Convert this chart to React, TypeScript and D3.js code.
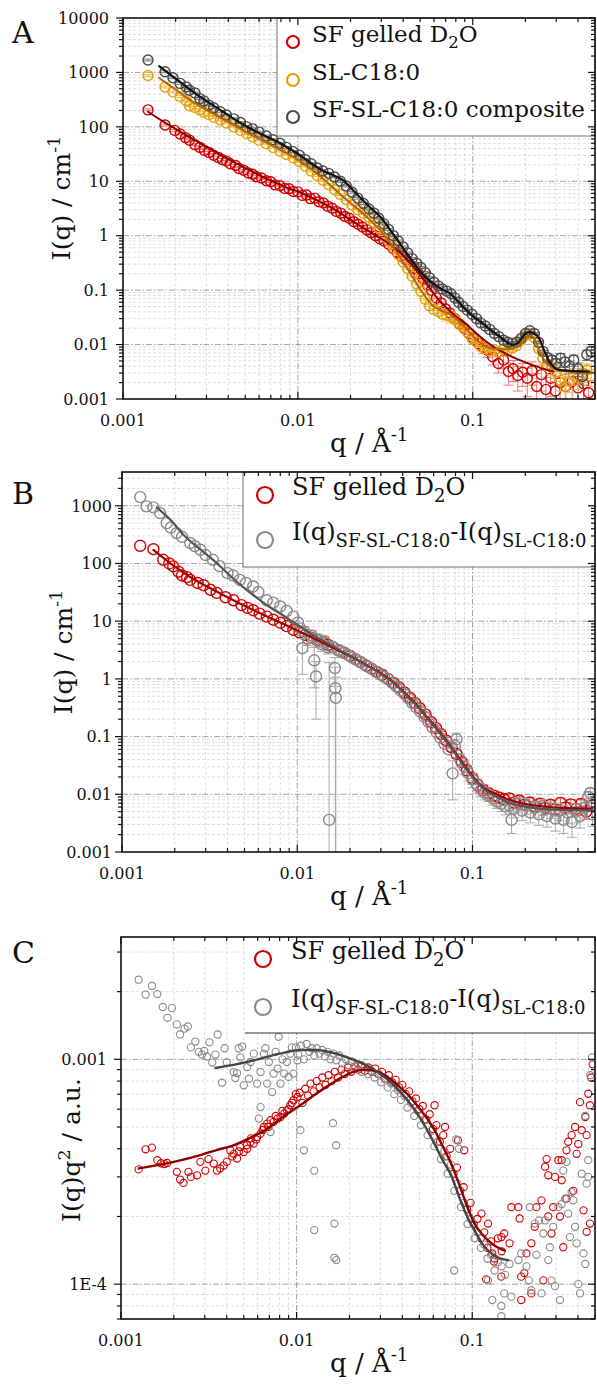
import React from 'react';
import * as d3 from 'd3';

type Pt = number[];
type Part = { t: string; sub?: boolean; sup?: boolean };

const FONT = "'DejaVu Serif', 'Liberation Serif', serif";
const X_DOMAIN = [0.001, 0.5];
const X_TICKS = [0.001, 0.01, 0.1];
const X_TICK_LABELS = ['0.001', '0.01', '0.1'];

// ---------------- Panel A ----------------
const A_Y_DOMAIN = [0.001, 10000];
const A_Y_TICKS = [0.001, 0.01, 0.1, 1, 10, 100, 1000, 10000];
const A_Y_LABELS = ['0.001', '0.01', '0.1', '1', '10', '100', '1000', '10000'];

const A_RED: Pt[] = [
  [0.00139, 205], [0.00174, 108], [0.00198, 86], [0.00212, 74], [0.00228, 63], [0.0024, 57], [0.00258, 47], [0.00275, 42],
  [0.00292, 37], [0.0031, 34], [0.0033, 30], [0.0035, 27.5], [0.0037, 25], [0.0039, 23.5], [0.0041, 21], [0.0044, 19.5],
  [0.0046, 17.2], [0.0049, 16], [0.0052, 14.2], [0.0055, 13.5], [0.0058, 12.1], [0.0062, 11.5], [0.0066, 10.2], [0.007, 9.8],
  [0.0074, 8.6], [0.0079, 8.3], [0.0084, 7.4], [0.0089, 7.3], [0.0094, 6.5], [0.01, 6.4], [0.0106, 5.5], [0.0112, 5.6],
  [0.0118, 4.8], [0.0125, 4.9], [0.0132, 4.2], [0.014, 4.0], [0.0148, 3.5], [0.0157, 3.2], [0.0166, 2.8], [0.0176, 2.6],
  [0.0186, 2.25], [0.0197, 2.1], [0.0209, 1.8], [0.0221, 1.62], [0.0234, 1.45], [0.0248, 1.28], [0.0262, 1.14], [0.0278, 1.0],
  [0.0294, 0.88], [0.0311, 0.8], [0.033, 0.7], [0.035, 0.58], [0.037, 0.5], [0.039, 0.42], [0.0415, 0.36], [0.044, 0.29],
  [0.0465, 0.25], [0.049, 0.2], [0.052, 0.16], [0.055, 0.125], [0.058, 0.1], [0.062, 0.072], [0.066, 0.058], [0.07, 0.045],
  [0.074, 0.038], [0.079, 0.03], [0.084, 0.024], [0.089, 0.02], [0.095, 0.016], [0.101, 0.013], [0.108, 0.0105],
  [0.115, 0.0088, 0.002], [0.122, 0.0078, 0.002], [0.13, 0.006, 0.0018], [0.14, 0.0045, 0.0015], [0.15, 0.0052, 0.0016],
  [0.16, 0.0032, 0.0014], [0.17, 0.0036, 0.0015], [0.181, 0.0027, 0.0013], [0.193, 0.0031, 0.0014], [0.205, 0.0024, 0.0013],
  [0.218, 0.0033, 0.0015], [0.232, 0.0017, 0.0012], [0.247, 0.0028, 0.0014], [0.262, 0.0015, 0.001], [0.279, 0.0024, 0.0013],
  [0.297, 0.0014, 0.001], [0.316, 0.002, 0.0012], [0.34, 0.0017, 0.0011], [0.37, 0.0021, 0.0012], [0.4, 0.0016, 0.001],
  [0.43, 0.0019, 0.0011], [0.46, 0.0013, 0.0009],
];

const A_ORANGE: Pt[] = [
  [0.00139, 880], [0.00174, 540], [0.00193, 440], [0.00212, 360], [0.0023, 300], [0.0024, 245], [0.00258, 228], [0.00275, 205],
  [0.0029, 185], [0.0031, 168], [0.0033, 150], [0.0036, 134], [0.0039, 118], [0.0043, 100], [0.0047, 86], [0.0051, 75],
  [0.0055, 66], [0.006, 57], [0.0066, 49], [0.0072, 42], [0.0079, 36], [0.0086, 31], [0.0094, 27], [0.0102, 23], [0.011, 19],
  [0.0119, 15.5], [0.0129, 12.8], [0.0139, 10.5], [0.015, 8.7], [0.0162, 7.0], [0.0175, 5.7], [0.0189, 4.6], [0.0204, 3.7],
  [0.022, 3.0], [0.0237, 2.6], [0.0255, 2.2], [0.0272, 1.75], [0.029, 1.4], [0.031, 1.05], [0.033, 0.8], [0.0352, 0.6],
  [0.0375, 0.45], [0.04, 0.33], [0.0425, 0.25], [0.045, 0.18], [0.0478, 0.13], [0.0505, 0.095], [0.0535, 0.068],
  [0.0565, 0.052], [0.06, 0.044], [0.0635, 0.04], [0.067, 0.036], [0.071, 0.035, 0.008], [0.075, 0.033, 0.008],
  [0.079, 0.029], [0.083, 0.025], [0.088, 0.021], [0.093, 0.017], [0.099, 0.013], [0.105, 0.011], [0.111, 0.0092],
  [0.118, 0.0084], [0.125, 0.0077], [0.133, 0.008], [0.141, 0.0073], [0.15, 0.0082], [0.159, 0.0077], [0.168, 0.0087],
  [0.178, 0.0095], [0.189, 0.012], [0.2, 0.0145], [0.212, 0.016], [0.225, 0.0135], [0.238, 0.0085], [0.252, 0.0056, 0.001],
  [0.267, 0.0043, 0.001], [0.283, 0.0038, 0.001], [0.3, 0.0031, 0.001], [0.318, 0.0022, 0.0008], [0.337, 0.0017, 0.0007],
  [0.357, 0.0021, 0.0008], [0.378, 0.0027, 0.0009], [0.4, 0.0024, 0.0009], [0.424, 0.003, 0.001], [0.449, 0.0034, 0.001],
  [0.475, 0.0026, 0.0009],
];

const A_GRAY: Pt[] = [
  [0.00139, 1690], [0.00174, 1030], [0.00193, 800], [0.00212, 630], [0.0023, 540], [0.0024, 470], [0.00258, 420],
  [0.00275, 330], [0.0029, 300], [0.0031, 250], [0.0033, 225], [0.0036, 190], [0.0039, 165], [0.0043, 140], [0.0047, 120],
  [0.0051, 100], [0.0055, 92], [0.006, 80], [0.0066, 68], [0.0072, 58], [0.0079, 50], [0.0086, 42], [0.0094, 35],
  [0.0102, 30], [0.011, 25], [0.0119, 21], [0.0129, 17.5], [0.0139, 15.5], [0.015, 14], [0.0162, 12], [0.0175, 10],
  [0.0189, 8.2], [0.0204, 6.3], [0.022, 4.9], [0.0237, 3.9], [0.0255, 3.1], [0.0272, 2.6], [0.029, 2.1], [0.031, 1.65],
  [0.033, 1.3], [0.0352, 1.0], [0.0375, 0.8], [0.04, 0.62], [0.0425, 0.48], [0.045, 0.38], [0.0478, 0.31], [0.0505, 0.26],
  [0.0535, 0.21], [0.0565, 0.17], [0.06, 0.14], [0.0635, 0.12], [0.067, 0.105], [0.071, 0.096], [0.075, 0.086],
  [0.079, 0.072], [0.083, 0.06], [0.088, 0.05], [0.093, 0.043], [0.099, 0.036], [0.105, 0.03], [0.111, 0.025],
  [0.118, 0.022], [0.125, 0.019], [0.133, 0.016], [0.141, 0.014], [0.15, 0.012], [0.159, 0.011], [0.168, 0.0105],
  [0.178, 0.011], [0.189, 0.013], [0.2, 0.016], [0.212, 0.018], [0.225, 0.016], [0.238, 0.011], [0.252, 0.0075],
  [0.267, 0.0058, 0.001], [0.283, 0.0052, 0.001], [0.3, 0.0045, 0.001], [0.318, 0.0056, 0.0012], [0.337, 0.0048, 0.001],
  [0.357, 0.004, 0.001], [0.378, 0.0052, 0.0012], [0.4, 0.0036, 0.001], [0.424, 0.0026, 0.0008], [0.449, 0.0065, 0.0014],
  [0.475, 0.0075, 0.0015],
];

const A_RED_FIT: Pt[] = [
  [0.00139, 190], [0.0017, 125], [0.002, 92], [0.0025, 60], [0.003, 43], [0.004, 25.5], [0.005, 17.5], [0.006, 13],
  [0.007, 10.3], [0.008, 8.5], [0.009, 7.3], [0.0103, 6.3], [0.012, 5.0], [0.014, 3.9], [0.016, 3.1], [0.018, 2.45],
  [0.02, 1.95], [0.025, 1.25], [0.03, 0.88], [0.0336, 0.7], [0.04, 0.43], [0.045, 0.29], [0.05, 0.19], [0.055, 0.125],
  [0.06, 0.085], [0.065, 0.062], [0.07, 0.049], [0.08, 0.033], [0.092, 0.0235], [0.105, 0.016], [0.119, 0.0115],
  [0.135, 0.0086], [0.156, 0.0067], [0.18, 0.0054], [0.22, 0.0042], [0.26, 0.0035], [0.29, 0.0032],
];

const A_ORANGE_FIT: Pt[] = [
  [0.00161, 790], [0.002, 480], [0.0025, 290], [0.003, 205], [0.004, 122], [0.005, 82], [0.006, 60], [0.008, 37],
  [0.01, 25], [0.012, 16.5], [0.014, 11], [0.016, 7.5], [0.018, 5.3], [0.02, 4.0], [0.025, 2.15], [0.03, 1.2],
  [0.035, 0.62], [0.04, 0.33], [0.045, 0.18], [0.05, 0.105], [0.055, 0.068], [0.06, 0.05], [0.065, 0.043], [0.07, 0.039],
  [0.075, 0.035], [0.08, 0.03], [0.09, 0.021], [0.1, 0.0145], [0.11, 0.0108], [0.12, 0.009], [0.14, 0.0082],
  [0.16, 0.0082], [0.18, 0.0093], [0.2, 0.0125], [0.212, 0.0145], [0.225, 0.013], [0.24, 0.0078], [0.26, 0.0048],
  [0.28, 0.0039], [0.32, 0.0034], [0.38, 0.0031], [0.47, 0.003],
];

const A_BLACK_FIT: Pt[] = [
  [0.00161, 1310], [0.00211, 675], [0.00275, 360], [0.0036, 205], [0.0047, 118], [0.006, 77], [0.0079, 50],
  [0.0103, 30], [0.012, 21], [0.014, 15.5], [0.016, 12.8], [0.0181, 10.5], [0.021, 6.5], [0.025, 3.7], [0.0307, 1.94],
  [0.0345, 1.15], [0.0383, 0.72], [0.043, 0.42], [0.0476, 0.27], [0.053, 0.18], [0.0593, 0.133], [0.066, 0.105],
  [0.074, 0.087], [0.082, 0.063], [0.092, 0.043], [0.102, 0.032], [0.114, 0.0244], [0.128, 0.018], [0.143, 0.0139],
  [0.156, 0.0112], [0.169, 0.0098], [0.18, 0.0105], [0.19, 0.013], [0.2, 0.016], [0.211, 0.017], [0.225, 0.016],
  [0.241, 0.0125], [0.255, 0.008], [0.275, 0.0048], [0.295, 0.0037], [0.314, 0.0034], [0.36, 0.0033], [0.465, 0.0032],
];

// ---------------- Panel B ----------------
const B_Y_DOMAIN = [0.001, 3850];
const B_Y_TICKS = [0.001, 0.01, 0.1, 1, 10, 100, 1000];
const B_Y_LABELS = ['0.001', '0.01', '0.1', '1', '10', '100', '1000'];

const B_RED: Pt[] = [
  [0.00127, 203], [0.00151, 177], [0.00172, 116], [0.00186, 100], [0.00196, 89], [0.0021, 72], [0.0022, 62], [0.00235, 58],
  [0.00245, 52], [0.0027, 46], [0.00292, 42], [0.0032, 35], [0.00347, 31], [0.0039, 26], [0.00433, 23], [0.0048, 19],
  [0.0052, 17], [0.0056, 15.5], [0.0061, 13.5], [0.0067, 12], [0.0073, 10.6], [0.008, 9.4], [0.0087, 8.2], [0.0095, 7.1],
  [0.0103, 6.4], [0.0111, 5.8], [0.012, 5.2], [0.013, 4.7], [0.014, 4.3], [0.015, 3.9], [0.016, 3.55], [0.0172, 3.15],
  [0.0185, 2.85], [0.02, 2.5], [0.0215, 2.2], [0.023, 1.95], [0.0248, 1.7], [0.0265, 1.5], [0.0285, 1.32], [0.0305, 1.18],
  [0.033, 1.0], [0.0355, 0.85], [0.038, 0.72], [0.041, 0.58], [0.044, 0.47], [0.047, 0.38], [0.05, 0.31, 0.03],
  [0.054, 0.24, 0.025], [0.058, 0.18, 0.02], [0.062, 0.14, 0.016], [0.066, 0.11, 0.013], [0.071, 0.085, 0.011],
  [0.076, 0.065, 0.009], [0.081, 0.05, 0.008], [0.087, 0.036, 0.006], [0.093, 0.026, 0.005], [0.1, 0.019, 0.004],
  [0.107, 0.0145, 0.003], [0.115, 0.012, 0.0025], [0.123, 0.0105, 0.002], [0.132, 0.0095, 0.002], [0.141, 0.0088, 0.0018],
  [0.151, 0.0082, 0.0017], [0.162, 0.0085, 0.0017], [0.173, 0.0072, 0.0015], [0.185, 0.0078, 0.0015], [0.198, 0.0066, 0.0014],
  [0.212, 0.0072, 0.0015], [0.227, 0.0062, 0.0013], [0.243, 0.0069, 0.0014], [0.26, 0.0058, 0.0013], [0.278, 0.0066, 0.0014],
  [0.297, 0.0055, 0.0013], [0.318, 0.0071, 0.0015], [0.34, 0.0059, 0.0013], [0.364, 0.0067, 0.0014], [0.39, 0.0056, 0.0013],
  [0.417, 0.0068, 0.0015], [0.446, 0.005, 0.0013], [0.477, 0.0064, 0.0014],
];

const B_GRAY: Pt[] = [
  [0.00127, 1415], [0.00138, 975], [0.00151, 940], [0.00165, 747], [0.0018, 500], [0.0019, 420], [0.00205, 336],
  [0.0022, 290], [0.00245, 226], [0.0026, 200], [0.0028, 173], [0.003, 140], [0.0033, 116], [0.0036, 90], [0.004, 68],
  [0.0043, 62], [0.0047, 52], [0.0051, 46], [0.0056, 40], [0.006, 32], [0.0067, 23], [0.0073, 21], [0.008, 18],
  [0.0087, 15], [0.0095, 12], [0.0101, 9.5], [0.0104, 7.5], [0.0107, 3.4, 2.2], [0.011, 6.5, 1.5], [0.0115, 5.0, 1.2],
  [0.0121, 5.6, 1.3], [0.0125, 2.1, 1.4], [0.0128, 1.1, 0.9], [0.0131, 4.8, 1.2], [0.0137, 4.0, 1.0], [0.0143, 4.5, 1.0],
  [0.015, 3.5, 0.8], [0.0152, 0.0036, 1.9], [0.0158, 3.6, 0.7], [0.0164, 1.54, 0.8], [0.0165, 0.69, 0.9],
  [0.0166, 0.47, 0.6], [0.0172, 3.1, 0.5], [0.0178, 3.0], [0.0185, 2.8], [0.0195, 2.6], [0.0205, 2.35], [0.0216, 2.15],
  [0.0228, 1.95], [0.024, 1.8], [0.0253, 1.62], [0.0267, 1.48], [0.0281, 1.33], [0.0297, 1.2], [0.0313, 1.08],
  [0.033, 0.98], [0.0348, 0.85], [0.0367, 0.74], [0.0387, 0.64], [0.0408, 0.55], [0.043, 0.46], [0.0454, 0.38],
  [0.0478, 0.32], [0.0504, 0.27], [0.0532, 0.22], [0.056, 0.18], [0.059, 0.145], [0.0622, 0.12], [0.0656, 0.095],
  [0.0692, 0.075], [0.073, 0.06], [0.077, 0.023, 0.015], [0.0795, 0.07, 0.02], [0.081, 0.09, 0.025], [0.085, 0.04, 0.01],
  [0.09, 0.03, 0.008], [0.095, 0.023, 0.006], [0.1, 0.018, 0.005], [0.106, 0.0145, 0.004], [0.112, 0.012, 0.003],
  [0.118, 0.0105, 0.0025], [0.124, 0.0095, 0.002], [0.131, 0.0085, 0.002], [0.138, 0.0075, 0.0018], [0.146, 0.0068, 0.0018],
  [0.154, 0.0062, 0.0018], [0.163, 0.0064, 0.0018], [0.167, 0.0036, 0.0015], [0.172, 0.0056, 0.0017], [0.182, 0.0068, 0.002],
  [0.192, 0.0052, 0.0017], [0.203, 0.0065, 0.002], [0.214, 0.0048, 0.0016], [0.226, 0.0058, 0.0018], [0.239, 0.0045, 0.0016],
  [0.252, 0.0062, 0.0019], [0.266, 0.0042, 0.0015], [0.281, 0.0056, 0.0018], [0.297, 0.0038, 0.0015], [0.313, 0.0052, 0.0017],
  [0.331, 0.0036, 0.0015], [0.349, 0.0048, 0.0017], [0.369, 0.0033, 0.0015], [0.389, 0.005, 0.0018], [0.411, 0.0042, 0.0016],
  [0.434, 0.0058, 0.0019], [0.458, 0.009, 0.002], [0.47, 0.0105, 0.0022], [0.484, 0.0045, 0.0017],
];

const B_RED_FIT: Pt[] = [
  [0.00151, 172], [0.002, 88], [0.0025, 56], [0.003, 41], [0.004, 26], [0.005, 18.5], [0.006, 14.2], [0.007, 11.4],
  [0.008, 9.5], [0.009, 8.0], [0.0104, 6.5], [0.012, 5.3], [0.015, 3.8], [0.018, 2.9], [0.022, 2.15], [0.026, 1.6],
  [0.03, 1.25], [0.035, 0.9], [0.04, 0.62], [0.045, 0.44], [0.05, 0.31], [0.055, 0.22], [0.06, 0.16], [0.065, 0.12],
  [0.07, 0.09], [0.075, 0.068], [0.08, 0.052], [0.09, 0.032], [0.1, 0.021], [0.11, 0.015], [0.12, 0.0122],
  [0.135, 0.0102], [0.15, 0.0088], [0.17, 0.0077], [0.2, 0.0068], [0.25, 0.0062], [0.3, 0.0059], [0.4, 0.0057],
  [0.48, 0.0056],
];

const B_GRAY_FIT: Pt[] = [
  [0.00158, 940], [0.0019, 560], [0.00224, 314], [0.0028, 175], [0.00347, 102], [0.0043, 55], [0.0054, 31],
  [0.0067, 19], [0.0084, 12.2], [0.0104, 8.1], [0.012, 6.0], [0.015, 4.1], [0.018, 3.0], [0.022, 2.15], [0.026, 1.6],
  [0.03, 1.22], [0.035, 0.88], [0.04, 0.6], [0.045, 0.42], [0.05, 0.3], [0.055, 0.21], [0.06, 0.155], [0.065, 0.115],
  [0.07, 0.086], [0.075, 0.066], [0.08, 0.05], [0.09, 0.03], [0.1, 0.02], [0.11, 0.0145], [0.12, 0.0115],
  [0.135, 0.0092], [0.15, 0.0079], [0.17, 0.0068], [0.2, 0.0061], [0.25, 0.0056], [0.3, 0.0054], [0.4, 0.0053],
  [0.48, 0.0052],
];

// ---------------- Panel C ----------------
const C_Y_DOMAIN = [7e-5, 3.5e-3];
const C_Y_TICKS = [1e-4, 1e-3];
const C_Y_LABELS = ['1E-4', '0.001'];

const C_RED: Pt[] = [
  [0.00126, 3.24e-4], [0.00138, 3.98e-4], [0.0015, 4.05e-4], [0.00161, 3.56e-4], [0.00169, 3.45e-4], [0.00177, 3.42e-4],
  [0.00183, 3.46e-4], [0.00208, 3.16e-4], [0.00217, 2.92e-4], [0.00227, 2.82e-4], [0.00242, 3.16e-4], [0.0025, 3.0e-4],
  [0.00271, 3.05e-4], [0.00283, 3.5e-4], [0.00302, 3.2e-4], [0.00315, 3.6e-4], [0.00337, 3.44e-4], [0.00352, 3.2e-4],
  [0.00367, 3.27e-4], [0.00384, 3.37e-4], [0.004, 3.5e-4], [0.00419, 3.94e-4], [0.0043, 3.7e-4], [0.00438, 3.8e-4],
  [0.00458, 3.62e-4], [0.0047, 3.9e-4], [0.00478, 4.07e-4], [0.005, 3.87e-4], [0.0052, 4.15e-4], [0.00523, 4.0e-4],
  [0.00546, 4.29e-4], [0.0055, 4.45e-4], [0.0057, 4.22e-4], [0.0059, 4.4e-4], [0.00596, 4.51e-4], [0.00623, 4.67e-4],
  [0.0064, 4.85e-4], [0.00651, 5.0e-4], [0.0068, 5.18e-4], [0.0069, 5.0e-4], [0.0071, 5.36e-4], [0.0074, 5.27e-4],
  [0.0076, 5.6e-4], [0.0078, 5.45e-4], [0.0081, 5.54e-4], [0.0083, 5.9e-4], [0.0085, 5.74e-4], [0.0088, 5.93e-4],
  [0.009, 6.0e-4], [0.0092, 6.25e-4], [0.0094, 6.4e-4], [0.0096, 6.58e-4], [0.0099, 7.0e-4], [0.0101, 6.8e-4],
  [0.0104, 7.1e-4], [0.0108, 6.4e-4], [0.0112, 7.4e-4], [0.0116, 6.9e-4], [0.012, 7.8e-4], [0.0125, 7.2e-4],
  [0.013, 8.0e-4], [0.0135, 7.5e-4], [0.014, 8.3e-4], [0.0146, 7.7e-4], [0.0152, 8.5e-4], [0.0158, 8.0e-4],
  [0.0165, 8.8e-4], [0.0172, 8.3e-4], [0.018, 9.0e-4], [0.0188, 8.6e-4], [0.0196, 9.2e-4], [0.0205, 8.8e-4],
  [0.0214, 9.3e-4], [0.0224, 9.0e-4], [0.0234, 9.4e-4], [0.0245, 8.9e-4], [0.0256, 9.2e-4], [0.0268, 8.8e-4],
  [0.028, 9.1e-4], [0.0293, 8.6e-4], [0.0306, 8.8e-4], [0.032, 8.2e-4], [0.0335, 8.5e-4], [0.035, 7.9e-4],
  [0.0366, 8.1e-4], [0.0383, 7.5e-4], [0.04, 7.7e-4], [0.0418, 7.0e-4], [0.0437, 7.2e-4], [0.0457, 6.5e-4],
  [0.0478, 6.7e-4], [0.05, 6.0e-4], [0.0523, 6.2e-4], [0.0547, 5.4e-4], [0.0572, 5.7e-4], [0.0598, 4.9e-4],
  [0.061, 6.25e-4], [0.0625, 5.1e-4], [0.0654, 4.3e-4], [0.0684, 4.6e-4], [0.07, 5.0e-4], [0.0715, 3.7e-4],
  [0.0748, 4.0e-4], [0.0782, 3.1e-4], [0.0818, 3.3e-4], [0.0829, 4.36e-4], [0.0855, 2.6e-4], [0.0894, 2.7e-4],
  [0.09, 3.94e-4], [0.0935, 2.15e-4], [0.0978, 2.3e-4], [0.102, 1.85e-4], [0.107, 1.95e-4], [0.112, 1.6e-4],
  [0.113, 2.06e-4], [0.117, 1.7e-4], [0.122, 1.45e-4], [0.123, 1.86e-4], [0.128, 1.55e-4], [0.134, 1.3e-4],
  [0.14, 1.6e-4], [0.1465, 1.62e-4], [0.147, 1.4e-4],
  [0.12, 1.05e-4], [0.13, 1.37e-4], [0.133, 1.26e-4], [0.1465, 1.08e-4], [0.152, 1.68e-4], [0.163, 1.52e-4],
  [0.167, 2.2e-4], [0.183, 2.2e-4], [0.186, 1.96e-4], [0.19, 1.08e-4], [0.19, 8.5e-5], [0.198, 1.12e-4],
  [0.2035, 1.37e-4], [0.217, 9.1e-5], [0.217, 1.52e-4], [0.227, 1.8e-4], [0.232, 2.2e-4], [0.248, 2.36e-4],
  [0.254, 1.04e-4], [0.26, 3.33e-4], [0.265, 3.6e-4], [0.271, 3.05e-4], [0.271, 2.0e-4], [0.2825, 1.68e-4],
  [0.289, 2.2e-4], [0.296, 3.0e-4], [0.309, 3.56e-4], [0.316, 2.0e-4], [0.323, 2.9e-4], [0.323, 3.56e-4],
  [0.33, 1.46e-4], [0.344, 3.94e-4], [0.344, 2.4e-4], [0.352, 4.3e-4], [0.368, 4.6e-4], [0.376, 2.6e-4],
  [0.385, 5.0e-4], [0.393, 3.8e-4], [0.402, 4.2e-4], [0.411, 6.45e-4], [0.42, 4.84e-4], [0.43, 2.13e-4],
  [0.44, 5.54e-4], [0.448, 4.6e-4], [0.448, 1.71e-4], [0.458, 7.03e-4], [0.468, 6.25e-4], [0.468, 1.86e-4],
  [0.475, 8.3e-4], [0.485, 9.5e-4],
];

const C_GRAY: Pt[] = [
  [0.00126, 2.26e-3], [0.00138, 1.94e-3], [0.0015, 2.12e-3], [0.00161, 1.95e-3], [0.00173, 1.71e-3], [0.00184, 1.53e-3],
  [0.00195, 1.69e-3], [0.00208, 1.43e-3], [0.00217, 1.29e-3], [0.0023, 1.37e-3], [0.0024, 1.4e-3], [0.0025, 1.13e-3],
  [0.00265, 1.2e-3], [0.00277, 1.08e-3], [0.00289, 1.05e-3], [0.00298, 1.09e-3], [0.00309, 1.03e-3], [0.00319, 1.19e-3],
  [0.00331, 9.67e-4], [0.00345, 1.05e-3], [0.00355, 1.29e-3], [0.00376, 7.87e-4], [0.00389, 1.12e-3], [0.004, 9.7e-4],
  [0.00438, 8.78e-4], [0.00448, 8.26e-4], [0.00458, 8.69e-4], [0.00468, 1.12e-3], [0.00478, 1.02e-3], [0.0049, 1.14e-3],
  [0.005, 7.66e-4], [0.00523, 9.24e-4], [0.00535, 8.2e-4], [0.00546, 9.73e-4], [0.0057, 1.06e-3], [0.00596, 7.8e-4],
  [0.0061, 5.45e-4], [0.00623, 8.78e-4], [0.00623, 6.13e-4], [0.00651, 1.06e-3], [0.00664, 1.12e-3], [0.0068, 7.8e-4],
  [0.00695, 9.73e-4], [0.0071, 4.75e-4], [0.00726, 7.15e-4], [0.0074, 8.64e-4], [0.0076, 1.08e-3], [0.0078, 9.1e-4],
  [0.0079, 1.26e-3], [0.0081, 7.8e-4], [0.0083, 1.0e-3], [0.0085, 8.64e-4], [0.0088, 9.73e-4], [0.009, 8.35e-4],
  [0.0092, 1.06e-3], [0.0094, 1.13e-3], [0.0096, 8.64e-4], [0.0099, 1.13e-3], [0.0101, 9.9e-4],
  [0.0102, 1.05e-3], [0.0105, 4.84e-4], [0.0106, 1.15e-3], [0.011, 1.0e-3], [0.011, 3.94e-4], [0.0114, 1.17e-3],
  [0.0118, 1.08e-3], [0.0122, 1.12e-3], [0.0126, 1.04e-3], [0.0126, 1.74e-4], [0.0126, 3.2e-4], [0.013, 1.12e-3],
  [0.0135, 1.06e-3], [0.014, 1.1e-3], [0.0145, 1.03e-3], [0.015, 1.08e-3], [0.0156, 1.0e-3], [0.0161, 5.2e-4],
  [0.0162, 1.06e-3], [0.0164, 1.86e-4], [0.0164, 1.31e-4], [0.0168, 9.9e-4], [0.0168, 1.28e-4], [0.0168, 4.15e-4],
  [0.0175, 1.04e-3], [0.0182, 9.6e-4], [0.019, 1.0e-3], [0.0198, 9.4e-4], [0.0206, 9.8e-4], [0.0215, 9.1e-4],
  [0.0224, 9.5e-4], [0.0234, 8.8e-4], [0.0244, 9.2e-4], [0.0255, 8.6e-4], [0.0266, 8.9e-4], [0.0278, 8.3e-4],
  [0.029, 8.6e-4], [0.0303, 7.9e-4], [0.0316, 8.2e-4], [0.033, 7.5e-4], [0.0345, 7.8e-4], [0.036, 7.0e-4],
  [0.0376, 7.3e-4], [0.0393, 6.6e-4], [0.041, 6.9e-4], [0.0428, 6.1e-4], [0.0447, 6.4e-4], [0.0467, 5.6e-4],
  [0.0488, 5.9e-4], [0.051, 5.1e-4], [0.0533, 5.4e-4], [0.0557, 4.6e-4], [0.0582, 4.8e-4], [0.0608, 4.1e-4],
  [0.0635, 4.3e-4], [0.0663, 3.6e-4], [0.0693, 3.9e-4], [0.0724, 3.1e-4], [0.0756, 3.4e-4], [0.079, 2.6e-4],
  [0.079, 1.15e-4], [0.081, 4.4e-4], [0.0825, 2.8e-4], [0.084, 4.0e-4], [0.0862, 2.2e-4], [0.09, 2.3e-4],
  [0.094, 1.85e-4], [0.098, 1.95e-4], [0.103, 1.6e-4], [0.107, 1.7e-4], [0.112, 1.45e-4], [0.117, 1.5e-4],
  [0.122, 1.3e-4], [0.128, 1.35e-4], [0.134, 1.15e-4], [0.14, 1.25e-4], [0.147, 1.2e-4], [0.154, 1.1e-4],
  [0.123, 1.04e-4], [0.13, 8.5e-5], [0.1465, 8.0e-5], [0.1465, 7.2e-5], [0.152, 9.1e-5], [0.163, 1.23e-4],
  [0.167, 8.8e-5], [0.183, 1.28e-4], [0.19, 1.37e-4], [0.2035, 1.2e-4], [0.21, 1.04e-4], [0.213, 2.2e-4],
  [0.217, 9.4e-5], [0.227, 1.86e-4], [0.232, 1.35e-4], [0.24, 1.92e-4], [0.248, 9.1e-5], [0.254, 1.68e-4],
  [0.26, 1.92e-4], [0.271, 1.28e-4], [0.277, 1.46e-4], [0.2825, 1.04e-4], [0.289, 1.8e-4], [0.296, 9.8e-5],
  [0.309, 2.2e-4], [0.316, 8.5e-5], [0.323, 2.27e-4], [0.33, 3.2e-4], [0.337, 2.4e-4], [0.344, 3.5e-4],
  [0.352, 2.06e-4], [0.36, 1.62e-4], [0.368, 2.57e-4], [0.376, 2.36e-4], [0.385, 1.8e-4], [0.393, 1.52e-4],
  [0.402, 1.0e-4], [0.411, 9.1e-5], [0.42, 3.1e-4], [0.43, 1.37e-4], [0.44, 1.23e-4], [0.44, 5.6e-4],
  [0.448, 2.8e-4], [0.458, 3.0e-4], [0.458, 3.56e-4], [0.47, 8.5e-4], [0.48, 1.02e-3],
];

const C_RED_FIT: Pt[] = [
  [0.00126, 3.27e-4], [0.0015, 3.35e-4], [0.002, 3.5e-4], [0.00283, 3.75e-4], [0.0035, 3.95e-4], [0.0044, 4.15e-4],
  [0.0055, 4.5e-4], [0.0068, 4.9e-4], [0.0085, 5.6e-4], [0.0105, 6.25e-4], [0.0125, 6.9e-4], [0.015, 7.6e-4],
  [0.018, 8.3e-4], [0.021, 8.8e-4], [0.025, 9.0e-4], [0.03, 8.7e-4], [0.035, 8.05e-4], [0.04, 7.35e-4], [0.045, 6.7e-4],
  [0.05, 6.05e-4], [0.055, 5.5e-4], [0.061, 4.84e-4], [0.068, 4.1e-4], [0.0758, 3.44e-4], [0.0866, 2.62e-4],
  [0.095, 2.15e-4], [0.103, 1.86e-4], [0.113, 1.68e-4], [0.1226, 1.57e-4], [0.135, 1.48e-4], [0.153, 1.41e-4],
];

const C_GRAY_FIT: Pt[] = [
  [0.00345, 9.15e-4], [0.0045, 9.5e-4], [0.006, 1.0e-3], [0.008, 1.06e-3], [0.0105, 1.1e-3], [0.013, 1.1e-3],
  [0.016, 1.07e-3], [0.02, 1.01e-3], [0.025, 9.4e-4], [0.03, 8.6e-4], [0.035, 7.8e-4], [0.04, 7.0e-4], [0.045, 6.25e-4],
  [0.05, 5.55e-4], [0.055, 4.9e-4], [0.061, 4.2e-4], [0.068, 3.55e-4], [0.0758, 3.05e-4], [0.085, 2.4e-4],
  [0.095, 1.95e-4], [0.103, 1.74e-4], [0.115, 1.5e-4], [0.13, 1.36e-4], [0.145, 1.3e-4], [0.16, 1.28e-4],
];

// ---------------- Text ----------------
const LEG_SF: Part[] = [{ t: 'SF gelled D' }, { t: '2', sub: true }, { t: 'O' }];
const LEG_SL: Part[] = [{ t: 'SL-C18:0' }];
const LEG_COMP: Part[] = [{ t: 'SF-SL-C18:0 composite' }];
const LEG_DIFF: Part[] = [{ t: 'I(q)' }, { t: 'SF-SL-C18:0', sub: true }, { t: '-I(q)' }, { t: 'SL-C18:0', sub: true }];
const Y_TITLE_I: Part[] = [{ t: 'I(q) / cm' }, { t: '-1', sup: true }];
const Y_TITLE_IQ2: Part[] = [{ t: 'I(q)q' }, { t: '2', sup: true }, { t: ' / a.u.' }];
const X_TITLE: Part[] = [{ t: 'q / Å' }, { t: '-1', sup: true }];

function logTicks(min: number, max: number) {
  const major: number[] = [];
  const minor: number[] = [];
  for (let k = Math.floor(Math.log10(min)) - 1; k <= Math.ceil(Math.log10(max)); k++) {
    for (let m = 1; m <= 9; m++) {
      const v = +(m * Math.pow(10, k)).toPrecision(6);
      if (v < min * 0.9999 || v > max * 1.0001) continue;
      (m === 1 ? major : minor).push(v);
    }
  }
  return { major, minor };
}

function Rich({ parts, size, scale = 0.72 }: { parts: Part[]; size: number; scale?: number }) {
  let shift = 0;
  return (
    <>
      {parts.map((p, i) => {
        const target = p.sub ? size * 0.28 : p.sup ? -size * 0.42 : 0;
        const dy = target - shift;
        shift = target;
        return (
          <tspan key={i} dy={dy} fontSize={p.sub || p.sup ? size * scale : size}>
            {p.t}
          </tspan>
        );
      })}
    </>
  );
}

interface SeriesSpec { data: Pt[]; color: string; errColor: string; r: number; sw: number; relErr?: number; cap: number }
interface LineSpec { data: Pt[]; color: string; width: number }
interface LegendSpec {
  x: number; y: number; w: number; h: number; border: 'box' | 'bottom';
  rows: { parts: Part[]; color: string; y: number }[]; mx: number; mr: number; tx: number; font: number; subScale: number;
}
interface PanelProps {
  id: string; left: number; right: number; top: number; bottom: number; yDomain: number[];
  yTicks: number[]; yLabels: string[]; yLabelX: number;
  series: SeriesSpec[]; lines: LineSpec[]; legend: LegendSpec;
  letter: string; letterY: number; yTitle: Part[]; yTitleX: number; yTitleY: number;
}

function Panel(p: PanelProps) {
  const x = d3.scaleLog().domain(X_DOMAIN).range([p.left, p.right]);
  const y = d3.scaleLog().domain(p.yDomain).range([p.bottom, p.top]);
  const xt = logTicks(X_DOMAIN[0], X_DOMAIN[1]);
  const yt = logTicks(p.yDomain[0], p.yDomain[1]);
  const clipId = 'clip-' + p.id;
  const lineGen = d3.line<Pt>().x(d => x(d[0])).y(d => y(d[1])).curve(d3.curveMonotoneX);
  const inX = (v: number) => v > X_DOMAIN[0] * 1.001 && v < X_DOMAIN[1] * 0.999;
  const inY = (v: number) => v > p.yDomain[0] * 1.001 && v < p.yDomain[1] * 0.999;
  const lg = p.legend;
  return (
    <g>
      <defs>
        <clipPath id={clipId}>
          <rect x={p.left} y={p.top} width={p.right - p.left} height={p.bottom - p.top} />
        </clipPath>
      </defs>
      {xt.minor.map(v => (
        <line key={'gxm' + v} x1={x(v)} x2={x(v)} y1={p.top} y2={p.bottom} stroke="#d6d6d6" strokeWidth={0.8} strokeDasharray="3,2" />
      ))}
      {yt.minor.map(v => (
        <line key={'gym' + v} x1={p.left} x2={p.right} y1={y(v)} y2={y(v)} stroke="#d6d6d6" strokeWidth={0.8} strokeDasharray="3,2" />
      ))}
      {xt.major.filter(inX).map(v => (
        <line key={'gxM' + v} x1={x(v)} x2={x(v)} y1={p.top} y2={p.bottom} stroke="#8c8c8c" strokeWidth={0.8} strokeDasharray="6,2,1.5,2" />
      ))}
      {yt.major.filter(inY).map(v => (
        <line key={'gyM' + v} x1={p.left} x2={p.right} y1={y(v)} y2={y(v)} stroke="#8c8c8c" strokeWidth={0.8} strokeDasharray="6,2,1.5,2" />
      ))}
      <g clipPath={`url(#${clipId})`}>
        {p.series.map((s, si) => (
          <g key={'s' + si}>
            {s.data.map((d, i) => {
              const e = d.length > 2 ? d[2] : s.relErr ? d[1] * s.relErr : 0;
              if (!e) return null;
              const hi = d[1] + e;
              const lo = d[1] - e;
              const cx = x(d[0]);
              const yh = y(hi);
              const yl = lo > p.yDomain[0] ? y(lo) : p.bottom + 5;
              return (
                <g key={'e' + i} stroke={s.errColor} strokeWidth={1}>
                  <line x1={cx} x2={cx} y1={yh} y2={yl} />
                  <line x1={cx - s.cap} x2={cx + s.cap} y1={yh} y2={yh} />
                  {lo > p.yDomain[0] && <line x1={cx - s.cap} x2={cx + s.cap} y1={yl} y2={yl} />}
                </g>
              );
            })}
            {s.data.map((d, i) => (
              <circle key={'c' + i} cx={x(d[0])} cy={y(d[1])} r={s.r} fill="none" stroke={s.color} strokeWidth={s.sw} />
            ))}
          </g>
        ))}
        {p.lines.map((l, li) => (
          <path key={'l' + li} d={lineGen(l.data) || ''} fill="none" stroke={l.color} strokeWidth={l.width} strokeLinejoin="round" strokeLinecap="round" />
        ))}
      </g>
      <g>
        <rect x={lg.x} y={lg.y} width={lg.w} height={lg.h} fill="#fff" stroke={lg.border === 'box' ? '#6e6e6e' : 'none'} strokeWidth={1} />
        {lg.border === 'bottom' && <line x1={lg.x} x2={lg.x + lg.w} y1={lg.y + lg.h} y2={lg.y + lg.h} stroke="#333" strokeWidth={1.2} />}
        {lg.rows.map((r, i) => (
          <g key={'lg' + i}>
            <circle cx={lg.mx} cy={r.y} r={lg.mr} fill="none" stroke={r.color} strokeWidth={2.2} />
            <text x={lg.tx} y={r.y} dy="0.36em" fontFamily={FONT} fontSize={lg.font} fill="#111">
              <Rich parts={r.parts} size={lg.font} scale={lg.subScale} />
            </text>
          </g>
        ))}
      </g>
      <rect x={p.left} y={p.top} width={p.right - p.left} height={p.bottom - p.top} fill="none" stroke="#111" strokeWidth={1.6} />
      {xt.major.concat(xt.minor).map(v => {
        const len = xt.major.includes(v) ? 7 : 4;
        return (
          <g key={'xt' + v} stroke="#111" strokeWidth={1.2}>
            <line x1={x(v)} x2={x(v)} y1={p.bottom} y2={p.bottom - len} />
            <line x1={x(v)} x2={x(v)} y1={p.top} y2={p.top + len} />
          </g>
        );
      })}
      {yt.major.concat(yt.minor).map(v => {
        const len = yt.major.includes(v) ? 7 : 4;
        return (
          <g key={'yt' + v} stroke="#111" strokeWidth={1.2}>
            <line x1={p.left} x2={p.left - len} y1={y(v)} y2={y(v)} />
            <line x1={p.right} x2={p.right - len} y1={y(v)} y2={y(v)} />
          </g>
        );
      })}
      {X_TICKS.map((v, i) => (
        <text key={'xl' + i} x={x(v)} y={p.bottom + 27} textAnchor="middle" fontFamily={FONT} fontSize={16} fill="#111">
          {X_TICK_LABELS[i]}
        </text>
      ))}
      {p.yTicks.map((v, i) => (
        <text key={'yl' + i} x={p.yLabelX} y={y(v)} dy="0.36em" textAnchor="end" fontFamily={FONT} fontSize={16} fill="#111">
          {p.yLabels[i]}
        </text>
      ))}
      <text x={12} y={p.letterY} fontFamily={FONT} fontSize={30} fill="#111">{p.letter}</text>
      <text transform={`translate(${p.yTitleX},${p.yTitleY}) rotate(-90)`} textAnchor="middle" fontFamily={FONT} fontSize={25} fill="#111">
        <Rich parts={p.yTitle} size={25} scale={0.7} />
      </text>
      <text x={330} y={p.bottom + 53} fontFamily={FONT} fontSize={26} fill="#111">
        <Rich parts={X_TITLE} size={26} scale={0.7} />
      </text>
    </g>
  );
}

const RED = '#d40000';
const ORANGE = '#e6a000';

export default function App() {
  return (
    <svg width={597} height={1387} style={{ display: 'block', position: 'absolute', left: 0, top: 0, background: '#fff' }}>
      <rect x={0} y={0} width={597} height={1387} fill="#fff" />
      <Panel
        id="A" left={123} right={595} top={18} bottom={399} yDomain={A_Y_DOMAIN}
        yTicks={A_Y_TICKS} yLabels={A_Y_LABELS} yLabelX={109}
        series={[
          { data: A_RED, color: RED, errColor: '#e57a7a', r: 5, sw: 1.4, relErr: 0.04, cap: 5 },
          { data: A_ORANGE, color: ORANGE, errColor: '#eebb55', r: 5, sw: 1.4, relErr: 0.04, cap: 5 },
          { data: A_GRAY, color: '#4a4a4a', errColor: '#777', r: 5, sw: 1.4, relErr: 0.04, cap: 5 },
        ]}
        lines={[
          { data: A_RED_FIT, color: '#8b0000', width: 2 },
          { data: A_ORANGE_FIT, color: '#b8650a', width: 2 },
          { data: A_BLACK_FIT, color: '#111', width: 2.2 },
        ]}
        legend={{
          x: 277, y: 18, w: 318, h: 118, border: 'box', mx: 293, mr: 6, tx: 312, font: 23, subScale: 0.72,
          rows: [
            { parts: LEG_SF, color: RED, y: 42 },
            { parts: LEG_SL, color: ORANGE, y: 80 },
            { parts: LEG_COMP, color: '#4a4a4a', y: 117 },
          ],
        }}
        letter="A" letterY={43} yTitle={Y_TITLE_I} yTitleX={70} yTitleY={198}
      />
      <Panel
        id="B" left={122} right={595} top={472} bottom={852} yDomain={B_Y_DOMAIN}
        yTicks={B_Y_TICKS} yLabels={B_Y_LABELS} yLabelX={112}
        series={[
          { data: B_RED, color: RED, errColor: '#e06060', r: 5.5, sw: 1.4, cap: 5 },
          { data: B_GRAY, color: '#8a8a8a', errColor: '#a8a8a8', r: 5.5, sw: 1.4, cap: 5 },
        ]}
        lines={[
          { data: B_RED_FIT, color: '#a00000', width: 2.2 },
          { data: B_GRAY_FIT, color: '#555', width: 2.2 },
        ]}
        legend={{
          x: 243, y: 472, w: 352, h: 95, border: 'box', mx: 265, mr: 8, tx: 292, font: 24, subScale: 0.75,
          rows: [
            { parts: LEG_SF, color: RED, y: 495 },
            { parts: LEG_DIFF, color: '#8a8a8a', y: 540 },
          ],
        }}
        letter="B" letterY={504} yTitle={Y_TITLE_I} yTitleX={72} yTitleY={652}
      />
      <Panel
        id="C" left={121} right={595} top={937} bottom={1319} yDomain={C_Y_DOMAIN}
        yTicks={C_Y_TICKS} yLabels={C_Y_LABELS} yLabelX={107}
        series={[
          { data: C_RED, color: RED, errColor: RED, r: 3.6, sw: 1.1, cap: 0 },
          { data: C_GRAY, color: '#8a8a8a', errColor: '#8a8a8a', r: 3.6, sw: 1.1, cap: 0 },
        ]}
        lines={[
          { data: C_RED_FIT, color: '#8b0000', width: 2.4 },
          { data: C_GRAY_FIT, color: '#444', width: 2.4 },
        ]}
        legend={{
          x: 245, y: 937, w: 350, h: 96, border: 'bottom', mx: 263, mr: 8, tx: 291, font: 24, subScale: 0.75,
          rows: [
            { parts: LEG_SF, color: RED, y: 959 },
            { parts: LEG_DIFF, color: '#8a8a8a', y: 1007 },
          ],
        }}
        letter="C" letterY={963} yTitle={Y_TITLE_IQ2} yTitleX={80} yTitleY={1150}
      />
    </svg>
  );
}
